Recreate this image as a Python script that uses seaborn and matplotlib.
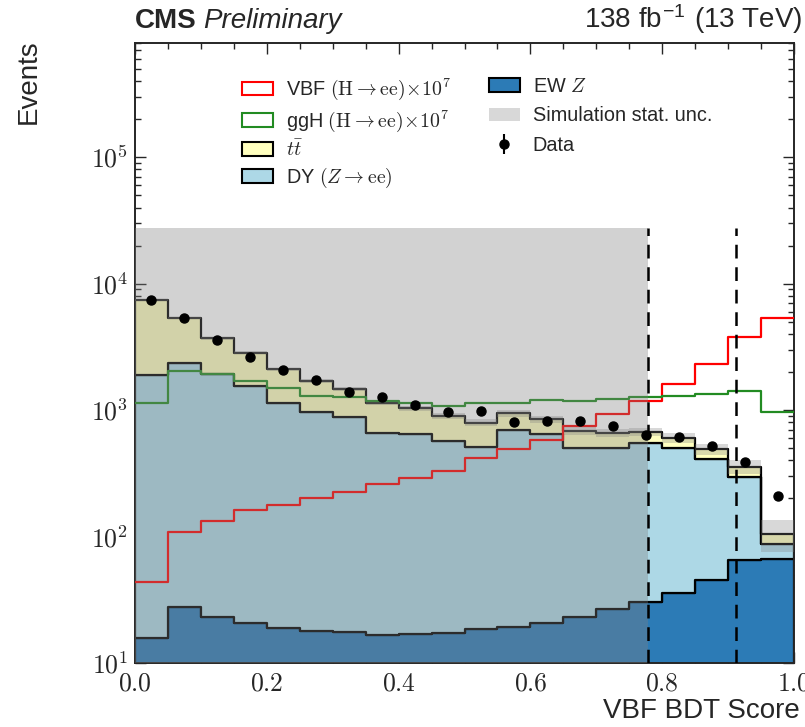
import numpy as np
import pandas as pd
import matplotlib
matplotlib.use("Agg")
import matplotlib.pyplot as plt
import seaborn as sns
from matplotlib.patches import Patch
from matplotlib.ticker import FuncFormatter, LogLocator, MultipleLocator, NullFormatter

# ---- binning of the VBF BDT score ----
bin_edges = [round(0.05 * i, 2) for i in range(21)]
bin_centers = [round(0.05 * i + 0.025, 3) for i in range(20)]

# ---- background yields per bin ----
ew_z = [15.8, 27.9, 23.2, 20.8, 18.8, 17.9, 17.5, 16.6, 16.9, 17.2,
        18.6, 19.2, 20.8, 23.2, 26.6, 30.3, 35.9, 45.3, 65.2, 66.7]
dy = [1876, 2338, 1892, 1535, 1124, 946, 868, 644, 629, 552,
      494, 676, 622, 481, 471, 515, 462, 363, 232, 21]
ttbar = [5518, 3004, 1775, 1284, 957, 743, 575, 482, 385, 328,
         281, 247, 202, 182, 164, 129, 106, 81, 60, 18]
sim_unc = [150, 110, 90, 80, 60, 55, 55, 45, 45, 45,
           50, 55, 50, 45, 45, 50, 50, 50, 45, 30]

# ---- signals (scaled by 1e7) ----
vbf_sig = [44, 108, 133, 162, 177, 203, 226, 261, 289, 330,
           415, 489, 579, 748, 930, 1186, 1607, 2312, 3758, 5370]
ggh_sig = [1143, 2048, 1916, 1706, 1485, 1298, 1274, 1185, 1143, 1082,
           1130, 1136, 1199, 1186, 1216, 1259, 1290, 1331, 1421, 970]

# ---- observed ----
data_obs = [7400, 5330, 3570, 2620, 2070, 1730, 1390, 1270, 1100, 965,
            982, 803, 818, 818, 748, 634, 612, 519, 388, 209]

# ---- blinded window and category boundaries ----
blind_hi_x = 0.778
blind_hi_y = 27500
cat_bounds = [0.778, 0.912]

process_names = ["tt", "DY", "EW"]
colors = {"tt": "#ffffbf", "DY": "#add8e6", "EW": "#2c7bb6"}
blind_color = "gray"
blind_alpha = 0.35

sns.set_style("ticks")
plt.rcParams["font.family"] = ["Liberation Sans", "DejaVu Sans"]
plt.rcParams["mathtext.fontset"] = "cm"
plt.rcParams["axes.linewidth"] = 1.4

fig = plt.figure(figsize=(8.05, 7.27), dpi=100)
ax = fig.add_axes([135 / 805, 1 - 663 / 727, (794 - 135) / 805, (663 - 43) / 727])

bkg = pd.DataFrame({
    "score": bin_centers * 3,
    "events": ttbar + dy + ew_z,
    "process": [p for p in process_names for _ in bin_centers],
})

# stacked backgrounds: last hue level ends up at the bottom of the stack
sns.histplot(data=bkg, x="score", weights="events", hue="process",
             hue_order=process_names, palette=colors, bins=bin_edges,
             multiple="stack", element="step", fill=True, alpha=1.0,
             edgecolor="black", linewidth=1.6, legend=False, ax=ax, zorder=2)

total = np.array(ttbar) + np.array(dy) + np.array(ew_z)
unc = np.array(sim_unc)
ax.stairs(total + unc, bin_edges, baseline=total - unc, fill=True,
          color="gray", alpha=0.3, linewidth=0, zorder=3)

sns.histplot(x=bin_centers, weights=vbf_sig, bins=bin_edges, element="step",
             fill=False, color="red", linewidth=1.6, ax=ax, zorder=4)
sns.histplot(x=bin_centers, weights=ggh_sig, bins=bin_edges, element="step",
             fill=False, color="forestgreen", linewidth=1.6, ax=ax, zorder=4)

ax.set_yscale("log")
ax.set_xlim(0, 1)
ax.set_ylim(10, 8.0e5)

# blinded signal-region overlay
ax.fill_between([0, blind_hi_x], 10, blind_hi_y, color=blind_color,
                alpha=blind_alpha, linewidth=0, zorder=5)
ax.vlines(cat_bounds, 10, blind_hi_y, colors="black", linewidth=1.8,
          linestyles=(0, (5.5, 3.5)), zorder=6)

data_h = ax.errorbar(bin_centers, data_obs, yerr=np.sqrt(data_obs), fmt="o",
                     color="black", markersize=6.5, elinewidth=1.5, zorder=7,
                     label="Data")

# axes cosmetics
ax.xaxis.set_major_locator(MultipleLocator(0.2))
ax.xaxis.set_minor_locator(MultipleLocator(0.05))
ax.xaxis.set_major_formatter(FuncFormatter(lambda v, p: r"$\mathrm{%.1f}$" % v))
ax.yaxis.set_major_locator(LogLocator(base=10, numticks=12))
ax.yaxis.set_minor_locator(LogLocator(base=10, subs=np.arange(2, 10), numticks=12))
ax.yaxis.set_major_formatter(
    FuncFormatter(lambda v, p: r"$10^{%d}$" % int(round(np.log10(v)))))
ax.yaxis.set_minor_formatter(NullFormatter())
ax.tick_params(which="both", direction="in", top=True, right=True,
               labelsize=18.5)
ax.tick_params(which="major", length=8, width=1.0)
ax.tick_params(which="minor", length=4, width=1.0)
ax.tick_params(axis="x", which="major", pad=6)
ax.tick_params(axis="y", which="major", pad=5)

ax.set_ylabel("Events", fontsize=20, loc="top")
ax.yaxis.set_label_coords(-0.142, 1.0065)
ax.set_xlabel("VBF BDT Score", fontsize=20, loc="right")
ax.xaxis.set_label_coords(1.009, -0.056)

left_entries = [
    Patch(facecolor="white", edgecolor="red", linewidth=1.5,
          label=r"VBF $(\mathrm{H}\rightarrow\mathrm{ee})\!\times\!10^{7}$"),
    Patch(facecolor="white", edgecolor="forestgreen", linewidth=1.5,
          label=r"ggH $(\mathrm{H}\rightarrow\mathrm{ee})\!\times\!10^{7}$"),
    Patch(facecolor=colors["tt"], edgecolor="black", linewidth=1.5,
          label=r"$t\bar{t}$"),
    Patch(facecolor=colors["DY"], edgecolor="black", linewidth=1.5,
          label=r"DY $(Z\rightarrow\mathrm{ee})$"),
]
right_entries = [
    Patch(facecolor=colors["EW"], edgecolor="black", linewidth=1.5,
          label=r"EW $Z$"),
    Patch(facecolor="gray", alpha=0.3, edgecolor="none",
          label="Simulation stat. unc."),
    data_h,
]
legend_style = dict(frameon=False, fontsize=14.3, loc="upper left",
                    bbox_transform=fig.transFigure, handlelength=1.55,
                    handleheight=0.65, handletextpad=0.65, borderaxespad=0)
leg_left = ax.legend(handles=left_entries, labelspacing=0.3,
                     bbox_to_anchor=(234 / 805, 1 - 69 / 727), **legend_style)
ax.add_artist(leg_left)
ax.legend(handles=right_entries, labelspacing=0.52,
          bbox_to_anchor=(481 / 805, 1 - 69 / 727), **legend_style)

cms = fig.text(135 / 805, 1 - 28 / 727, "CMS", fontsize=20,
               fontweight="bold", va="baseline", ha="left")
fig.canvas.draw()
bb = cms.get_window_extent()
fig.text((bb.x1 + 6) / 805, 1 - 28 / 727, "Preliminary", fontsize=20,
         fontstyle="italic", va="baseline", ha="left")
fig.text(802 / 805, 1 - 28 / 727, r"138 fb$^{\mathregular{-1}}$ (13 TeV)",
         fontsize=20, va="baseline", ha="right")

fig.savefig("out.png", dpi=100)
